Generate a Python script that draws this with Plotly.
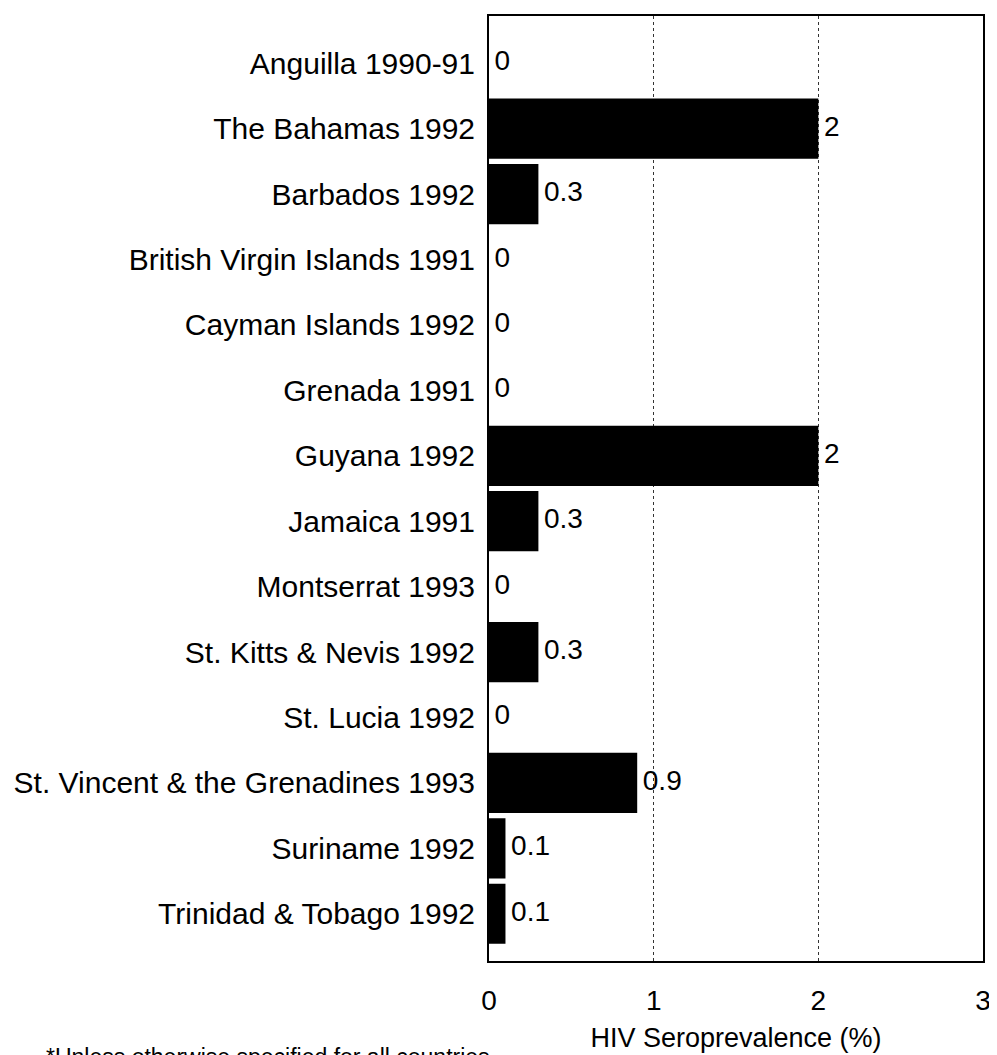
import plotly.graph_objects as go

categories = [
    "Anguilla 1990-91",
    "The Bahamas 1992",
    "Barbados 1992",
    "British Virgin Islands 1991",
    "Cayman Islands 1992",
    "Grenada 1991",
    "Guyana 1992",
    "Jamaica 1991",
    "Montserrat 1993",
    "St. Kitts & Nevis 1992",
    "St. Lucia 1992",
    "St. Vincent & the Grenadines 1993",
    "Suriname 1992",
    "Trinidad & Tobago 1992",
]
values = [0, 2, 0.3, 0, 0, 0, 2, 0.3, 0, 0.3, 0, 0.9, 0.1, 0.1]
value_labels = ["0", "2", "0.3", "0", "0", "0", "2", "0.3", "0", "0.3", "0", "0.9", "0.1", "0.1"]
x_ticks = [0, 1, 2, 3]
x_title = "HIV Seroprevalence (%)"
footnote = "*Unless otherwise specified for all countries"

FONT = "Liberation Sans, Arial, sans-serif"
# the page body has an 8px default margin, so the figure is drawn 8px in from the top-left
OFF = 8
W, H = 997 - OFF, 1055 - OFF
ML, MR, MT, MB = 474 - OFF, 14, 14 - OFF, 94

fig = go.Figure()
fig.add_trace(go.Bar(
    x=values, y=categories, orientation="h",
    marker=dict(color="black", line=dict(width=0)),
    hoverinfo="skip",
))
fig.add_trace(go.Scatter(
    x=values, y=categories, mode="text",
    text=["\u2009" + t for t in value_labels],
    textposition="middle right",
    textfont=dict(family=FONT, size=28, color="black"),
    cliponaxis=False, hoverinfo="skip",
))

pw = W - ML - MR
ph = H - MT - MB
fig.update_layout(
    width=W, height=H,
    margin=dict(l=ML, r=MR, t=MT, b=MB),
    paper_bgcolor="white", plot_bgcolor="white",
    showlegend=False, bargap=0.08,
    font=dict(family=FONT, size=28, color="black"),
    annotations=[dict(
        text=footnote,
        x=(15 - OFF - ML) / pw, y=-(1042 - OFF - (MT + ph)) / ph,
        xref="paper", yref="paper",
        showarrow=False, xanchor="left", yanchor="top",
        font=dict(family=FONT, size=23, color="black"),
    )],
)

fig.update_xaxes(
    range=[0, 3], tickvals=x_ticks, ticktext=[str(t) for t in x_ticks],
    showgrid=True, gridcolor="#333333", griddash="dot", gridwidth=1,
    showline=True, linecolor="black", linewidth=2, mirror=True,
    ticks="", ticklabelstandoff=13, zeroline=False,
    tickfont=dict(size=28),
    title=dict(text=x_title, standoff=14, font=dict(size=27)),
)
fig.update_yaxes(
    autorange="reversed", showgrid=False,
    showline=True, linecolor="black", linewidth=2, mirror=True,
    ticks="", ticklabelstandoff=6, tickfont=dict(size=30),
)

fig.write_html("out.html")
